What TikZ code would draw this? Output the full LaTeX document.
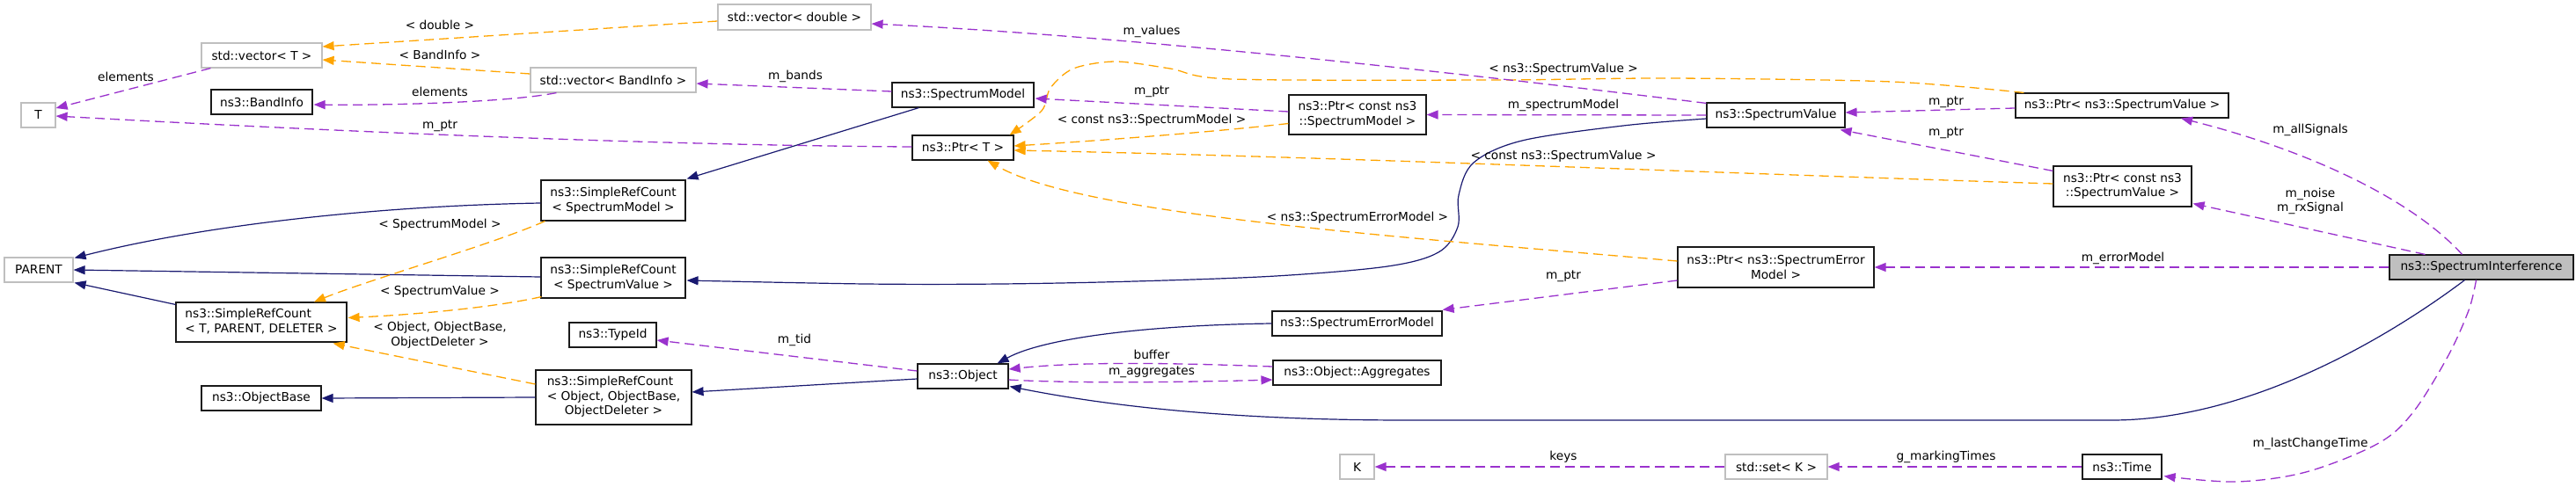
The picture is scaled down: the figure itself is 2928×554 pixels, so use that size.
\documentclass[tikz,border=0pt]{standalone}
\usepackage{fontspec}
\setmainfont{DejaVu Sans}
\usetikzlibrary{arrows.meta,calc}
\definecolor{navyc}{HTML}{191970}
\definecolor{orangec}{HTML}{FFA500}
\definecolor{orchidc}{HTML}{9A32CD}
\definecolor{greyc}{HTML}{BFBFBF}
\definecolor{borderc}{HTML}{1A1A1A}
\newcommand{\nodefont}{\fontsize{13.7}{16.5}\selectfont}
\begin{document}
\begin{tikzpicture}[x=1pt,y=-1pt,
  cls/.style={draw=borderc, line width=1.15pt, inner sep=0pt, font=\nodefont, align=center, fill=white},
  ext/.style={cls, draw=greyc},
  lbl/.style={font=\nodefont, inner sep=0pt, align=center},
  tip/.style={-{Triangle[length=13pt,width=10pt]}},
  inh/.style={tip, draw=navyc, line width=1.2pt},
  tpl/.style={tip, draw=orangec, line width=1.3pt, dash pattern=on 11pt off 6pt},
  use/.style={tip, draw=orchidc, line width=1.3pt, dash pattern=on 11pt off 6pt}]
\fill[white] (0,0) rectangle (2928,554);
\useasboundingbox (0,0) rectangle (2928,554);

% ---------- nodes ----------
\node[ext, minimum width=39pt, minimum height=28pt] (T) at (43.5,131) {T};
\node[ext, minimum width=78pt, minimum height=28pt] (PARENT) at (44,307) {PARENT};
\node[ext, minimum width=137pt, minimum height=28pt] (vecT) at (297.5,63) {std::vector< T >};
\node[cls, minimum width=115pt, minimum height=28pt] (BI) at (297.5,116) {ns3::BandInfo};
\node[cls, minimum width=194pt, minimum height=45pt] (SRCTPD) at (297,366.5) {\begin{tabular}{@{}l@{}}ns3::SimpleRefCount\\< T, PARENT, DELETER >\end{tabular}};
\node[cls, minimum width=136pt, minimum height=28pt] (OB) at (297,453) {ns3::ObjectBase};
\node[ext, minimum width=188pt, minimum height=28pt] (vecBI) at (697,91) {std::vector< BandInfo >};
\node[cls, minimum width=164pt, minimum height=46pt] (SRCSM) at (697,228) {ns3::SimpleRefCount\\< SpectrumModel >};
\node[cls, minimum width=164pt, minimum height=46pt] (SRCSV) at (697,316) {ns3::SimpleRefCount\\< SpectrumValue >};
\node[cls, minimum width=99pt, minimum height=28pt] (TID) at (696.5,381) {ns3::TypeId};
\node[cls, minimum width=177pt, minimum height=62pt] (SRCO) at (697.5,452) {\begin{tabular}{@{}c@{}}\multicolumn{1}{@{}l@{}}{ns3::SimpleRefCount}\\< Object, ObjectBase,\\ObjectDeleter >\end{tabular}};
\node[ext, minimum width=174pt, minimum height=29pt] (vecD) at (903,19.5) {std::vector< double >};
\node[cls, minimum width=161pt, minimum height=28pt] (SM) at (1094.5,108) {ns3::SpectrumModel};
\node[cls, minimum width=115pt, minimum height=28pt] (PtrT) at (1094.5,168) {ns3::Ptr< T >};
\node[cls, minimum width=103pt, minimum height=28pt] (Obj) at (1094.5,428) {ns3::Object};
\node[cls, minimum width=156pt, minimum height=45pt] (PcSM) at (1543,130.5) {ns3::Ptr< const ns3\\::SpectrumModel >};
\node[cls, minimum width=193pt, minimum height=28pt] (SEM) at (1542.5,368) {ns3::SpectrumErrorModel};
\node[cls, minimum width=191pt, minimum height=28pt] (Agg) at (1542.5,424) {ns3::Object::Aggregates};
\node[ext, minimum width=39pt, minimum height=28pt] (K) at (1542.5,531) {K};
\node[cls, minimum width=157pt, minimum height=28pt] (SV) at (2018.5,131) {ns3::SpectrumValue};
\node[cls, minimum width=223pt, minimum height=46pt] (PSEM) at (2018.5,304) {ns3::Ptr< ns3::SpectrumError\\Model >};
\node[ext, minimum width=116pt, minimum height=28pt] (setK) at (2019,531) {std::set< K >};
\node[cls, minimum width=242pt, minimum height=28pt] (PSV) at (2412,120) {ns3::Ptr< ns3::SpectrumValue >};
\node[cls, minimum width=157pt, minimum height=46pt] (PcSV) at (2412.5,212) {ns3::Ptr< const ns3\\::SpectrumValue >};
\node[cls, minimum width=90pt, minimum height=28pt] (Time) at (2412,531) {ns3::Time};
\node[cls, fill=greyc, minimum width=209pt, minimum height=28pt] (SI) at (2820.5,304) {ns3::SpectrumInterference};

% ---------- helper coordinates ----------
\coordinate (e5s) at ($(SV.west)+(0,4)$);
\coordinate (e5e) at ($(SRCSV.east)+(1,3)$);
\coordinate (e18s) at ($(PSV.north west)+(10,0)$);
\coordinate (e18e) at ($(PtrT.north east)+(-5,0)$);
\coordinate (e37s) at ($(SI.south)+(-6,0)$);
\coordinate (e37e) at ($(Time.south east)+(2,-4)$);

% ---------- inheritance (navy) ----------
\draw[inh] ($(SRCSM.west)+(0,3)$) .. controls (440,234) and (240,254) .. ($(PARENT.north east)+(1,1)$);
\draw[inh] ($(SRCSV.west)+(0,-1)$) -- (PARENT.east);
\draw[inh] ($(SRCTPD.north west)+(0,3)$) -- ($(PARENT.south east)+(1,0)$);
\draw[inh] ($(SM.south west)+(31,0)$) -- ($(SRCSM.north east)+(1,-1)$);
\draw[inh] plot[smooth, tension=0.55] coordinates {(e5s) (1845,143) (1730,160) (1675,185) (1658,222) (1657,258) (1635,287) (1577,303) (1450,314) (1290,320) (1137,323) (984,323) (e5e)};
\draw[inh] ($(Obj.west)+(0,3)$) -- ($(SRCO.east)+(0,-6)$);
\draw[inh] (SRCO.west) -- (OB.east);
\draw[inh] (SEM.west) .. controls (1300,370) and (1185,385) .. ($(Obj.north east)+(-13,0)$);
\draw[inh] ($(SI.south)+(-19,0)$) .. controls (2720,380) and (2560,478) .. (2400,478) -- (1600,478) .. controls (1400,478) and (1260,462) .. ($(Obj.south east)+(1,-3)$);

% ---------- template instances (orange) ----------
\draw[tpl] ($(vecD.west)+(0,4.5)$) -- ($(vecT.east)+(0,-10)$);
\draw[tpl] ($(vecBI.west)+(0,-7)$) -- ($(vecT.east)+(0,5)$);
\draw[tpl] ($(SRCSM.south west)+(5,0)$) .. controls (560,278) and (420,318) .. ($(SRCTPD.north)+(60,0)$);
\draw[tpl] ($(SRCSV.south west)+(1,-2)$) .. controls (560,350) and (470,358) .. ($(SRCTPD.east)+(1,-5)$);
\draw[tpl] ($(SRCO.west)+(0,-15)$) -- ($(SRCTPD.south east)+(-16,1)$);
\draw[tpl] ($(PcSM.west)+(0,10)$) .. controls (1380,150) and (1250,160) .. ($(PtrT.east)+(0,-2)$);
\draw[tpl] ($(PcSV.west)+(0,-3)$) .. controls (1900,195) and (1500,178) .. ($(PtrT.east)+(0,3)$);
\draw[tpl] ($(PSEM.west)+(0,-7)$) .. controls (1600,270) and (1230,245) .. ($(PtrT.south)+(28,0)$);
\draw[tpl] plot[smooth, tension=0.5] coordinates {(e18s) (2150,93) (1900,89) (1700,91) (1400,90) (1330,78) (1268,70) (1220,78) (1194,100) (1184,126) (e18e)};

% ---------- usage (orchid) ----------
\draw[use] ($(vecT.south west)+(11,0)$) -- ($(T.east)+(0,-8)$);
\draw[use] ($(vecBI.south west)+(30,0)$) .. controls (580,116) and (450,120) .. ($(BI.east)+(1,3)$);
\draw[use] ($(PtrT.west)+(0,-1)$) .. controls (700,165) and (300,145) .. ($(T.east)+(0,1)$);
\draw[use] ($(SM.west)+(0,-4)$) -- ($(vecBI.east)+(0,4)$);
\draw[use] ($(SV.north west)+(0,1)$) .. controls (1700,88) and (1300,42) .. ($(vecD.east)+(0,7.5)$);
\draw[use] ($(PcSM.west)+(0,-3.5)$) -- ($(SM.east)+(1,4)$);
\draw[use] (SV.west) -- (PcSM.east);
\draw[use] ($(PSV.west)+(0,3)$) -- ($(SV.east)+(0,-3)$);
\draw[use] ($(PcSV.north west)+(0,6)$) -- ($(SV.south east)+(-6,2)$);
\draw[use] ($(PSEM.west)+(0,15)$) -- ($(SEM.north east)+(0,-1)$);
\draw[use] ($(Obj.west)+(0,-6)$) -- ($(TID.east)+(0,6)$);
\draw[use] ($(Agg.west)+(0,-7)$) .. controls (1360,414) and (1240,410) .. ($(Obj.east)+(0,-8)$);
\draw[use] ($(Obj.east)+(0,4)$) .. controls (1230,437) and (1380,434) .. ($(Agg.west)+(0,8)$);
\draw[use] (setK.west) -- (K.east);
\draw[use] (Time.west) -- (setK.east);
\draw[use] ($(SI.north)+(-22,0)$) .. controls (2740,225) and (2620,170) .. ($(PSV.south)+(67,0)$);
\draw[use] ($(SI.north)+(-64,0)$) -- ($(PcSV.south east)+(1,-4)$);
\draw[use] (SI.west) -- (PSEM.east);
\draw[use] plot[smooth, tension=0.55] coordinates {(e37s) (2806,353) (2782,406) (2742,470) (2702,505) (2621,537) (2541,548) (e37e)};

% ---------- edge labels ----------
\node[lbl] (l1) at (500,28) {< double >};
\node[lbl] (l2) at (500,62) {< BandInfo >};
\node[lbl] (l3) at (143,87) {elements};
\node[lbl] (l4) at (500,104) {elements};
\node[lbl] (l5) at (500,143) {m\_ptr};
\node[lbl] (l6) at (500,256) {< SpectrumModel >};
\node[lbl] (l7) at (500,332) {< SpectrumValue >};
\node[lbl] (l8) at (500,381) {< Object, ObjectBase,\\ObjectDeleter >};
\node[lbl] (l9) at (1309,36) {m\_values};
\node[lbl] (l10) at (904,87) {m\_bands};
\node[lbl] (l11) at (1309,104) {m\_ptr};
\node[lbl] (l12) at (1309,137) {< const ns3::SpectrumModel >};
\node[lbl] (l13) at (1543,248) {< ns3::SpectrumErrorModel >};
\node[lbl] (l14) at (903,387) {m\_tid};
\node[lbl] (l15) at (1309,403) {buffer};
\node[lbl] (l16) at (1309,423) {m\_aggregates};
\node[lbl] (l17) at (1777,79) {< ns3::SpectrumValue >};
\node[lbl] (l18) at (1777,120) {m\_spectrumModel};
\node[lbl] (l19) at (2212,116) {m\_ptr};
\node[lbl] (l20) at (2212,151) {m\_ptr};
\node[lbl] (l21) at (1777,178) {< const ns3::SpectrumValue >};
\node[lbl] (l22) at (1777,314) {m\_ptr};
\node[lbl] (l23) at (1777,520) {keys};
\node[lbl] (l24) at (2212,520) {g\_markingTimes};
\node[lbl] (l25) at (2626,148) {m\_allSignals};
\node[lbl] (l26) at (2626,229) {m\_noise\\m\_rxSignal};
\node[lbl] (l27) at (2413,294) {m\_errorModel};
\node[lbl] (l28) at (2626,505) {m\_lastChangeTime};
\end{tikzpicture}
\end{document}
